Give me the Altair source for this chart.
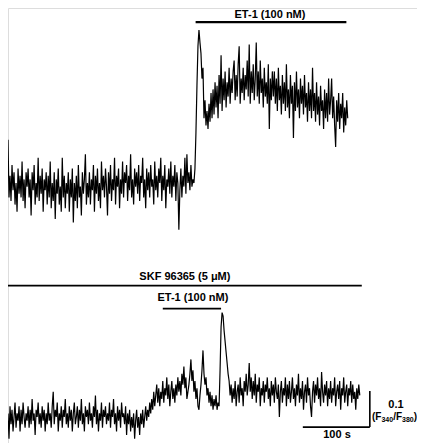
import altair as alt
import pandas as pd

# sampling interval of the traces (s)
dt = 1.5

# Top trace: F340/F380 ratio (ET-1 alone)
top_ratio = [
    0.82, 0.66, 0.72, 0.65, 0.75, 0.68, 0.73, 0.64, 0.70, 0.62, 0.74, 0.67, 0.72, 0.66, 0.76, 0.65, 0.71, 0.63, 0.73, 0.69,
    0.74, 0.66, 0.71, 0.61, 0.73, 0.68, 0.75, 0.64, 0.70, 0.66, 0.77, 0.65, 0.72, 0.67, 0.74, 0.62, 0.71, 0.68, 0.73, 0.64,
    0.72, 0.66, 0.76, 0.63, 0.70, 0.65, 0.73, 0.60, 0.71, 0.67, 0.74, 0.64, 0.69, 0.62, 0.77, 0.66, 0.72, 0.63, 0.70, 0.67,
    0.73, 0.62, 0.71, 0.66, 0.74, 0.59, 0.70, 0.65, 0.72, 0.63, 0.75, 0.66, 0.69, 0.61, 0.73, 0.67, 0.71, 0.78, 0.64, 0.70,
    0.66, 0.73, 0.64, 0.71, 0.68, 0.75, 0.62, 0.72, 0.67, 0.74, 0.65, 0.70, 0.63, 0.76, 0.68, 0.72, 0.66, 0.74, 0.69, 0.61,
    0.73, 0.67, 0.75, 0.65, 0.71, 0.68, 0.77, 0.64, 0.72, 0.69, 0.74, 0.63, 0.71, 0.67, 0.76, 0.66, 0.73, 0.70, 0.75, 0.65,
    0.72, 0.68, 0.78, 0.66, 0.71, 0.64, 0.74, 0.69, 0.73, 0.67, 0.75, 0.65, 0.72, 0.70, 0.77, 0.66, 0.71, 0.63, 0.74, 0.68,
    0.73, 0.66, 0.75, 0.69, 0.71, 0.64, 0.76, 0.68, 0.72, 0.66, 0.74, 0.70, 0.77, 0.65, 0.72, 0.68, 0.75, 0.63, 0.71, 0.69,
    0.74, 0.67, 0.76, 0.66, 0.72, 0.69, 0.75, 0.65, 0.73, 0.70, 0.57, 0.68, 0.74, 0.66, 0.72, 0.69, 0.77, 0.67, 0.78, 0.70,
    0.73, 0.68, 0.75, 0.69, 0.71,
    0.70, 0.74, 0.84, 0.97, 1.08, 1.125, 1.09, 1.06, 0.99, 1.02, 0.88, 0.93, 0.86, 0.90, 0.85, 0.92, 0.87, 0.95, 0.88,
    0.96, 0.89, 0.98, 0.91, 0.97, 0.88, 1.00, 0.92, 1.055, 0.90, 0.99, 0.93, 1.01, 0.91, 0.98, 0.94, 1.02, 0.92, 0.99, 0.95,
    1.01, 1.04, 0.93, 1.00, 0.94, 1.03, 1.08, 0.92, 0.99, 0.95, 1.02, 0.93, 1.00, 0.96, 1.04, 0.94, 1.085, 0.92, 1.01, 0.95,
    1.03, 0.93, 0.99, 1.09, 0.94, 1.01, 0.92, 1.04, 0.95, 0.99, 0.91, 1.02, 0.94, 0.98, 0.92, 1.03, 0.85, 0.99, 0.93, 1.01,
    0.94, 1.01, 0.92, 0.99, 0.90, 1.02, 0.93, 0.97, 0.89, 1.00, 0.92, 0.98, 0.90, 1.03, 0.91, 0.96, 0.88, 1.00, 0.92, 0.97,
    0.825, 0.98, 0.90, 1.01, 0.91, 0.96, 0.88, 0.99, 0.92, 0.97, 0.89, 1.00, 0.91, 0.95, 0.87, 0.98, 0.90, 0.96, 0.88, 1.02,
    0.90, 0.95, 0.87, 0.98, 0.89, 0.94, 0.86, 0.97, 0.90, 0.93, 0.85, 0.96, 0.88, 0.95, 0.87, 0.99, 0.89, 0.93, 0.99, 0.88,
    0.94, 0.86, 0.80, 0.93, 0.87, 0.95, 0.85, 0.92, 0.88, 0.95, 0.84, 0.91, 0.86, 0.93, 0.88,
]

# Bottom trace: F340/F380 ratio (ET-1 in presence of SKF 96365)
bottom_ratio = [
    0.06, -0.01, 0.08, 0.03, 0.07, 0.01, 0.05, 0.09, 0.02, 0.06, 0.04, 0.08, 0.01, 0.07, 0.03, 0.09, 0.05, 0.02, 0.06, 0.04,
    0.08, 0.02, 0.07, 0.03, 0.10, 0.04, 0.06, 0.00, 0.07, 0.05, 0.09, 0.03, 0.06, 0.02, 0.08, 0.04, 0.07, 0.01, 0.06, 0.03,
    0.09, 0.04, 0.06, 0.02, 0.08, 0.12, 0.03, 0.07, 0.05, 0.09, 0.01, 0.06, 0.04, 0.08, 0.02, 0.07, 0.05, 0.10, 0.03, 0.06,
    0.02, 0.08, 0.04, 0.07, 0.01, 0.06, 0.09, 0.03, 0.05, 0.08, 0.02, 0.07, 0.04, 0.10, 0.03, 0.06, 0.01, 0.08, 0.05, 0.07,
    0.03, 0.09, 0.04, 0.06, 0.02, 0.08, 0.05, 0.11, 0.03, 0.07, 0.01, 0.06, 0.04, 0.09, 0.02, 0.07, 0.05, 0.08, 0.03, 0.06,
    0.04, 0.09, 0.02, 0.07, 0.05, 0.10, 0.03, 0.06, 0.01, 0.08, 0.04, 0.07, 0.02, 0.09, 0.05, 0.06, 0.03, 0.08, 0.00, 0.06,
    0.03, 0.07, 0.01, 0.05, 0.02, 0.06, -0.01, 0.04, 0.07, 0.02, 0.05, 0.00, 0.06, 0.03, 0.07, 0.02, 0.05, 0.08, 0.04, 0.07,
    0.05, 0.09, 0.06, 0.10, 0.07, 0.12, 0.08, 0.11, 0.14, 0.09, 0.13, 0.08, 0.12, 0.10, 0.15, 0.09, 0.13, 0.11, 0.16, 0.10,
    0.14, 0.08, 0.12, 0.15, 0.10, 0.13, 0.09, 0.14, 0.11, 0.16, 0.12, 0.15, 0.11, 0.17, 0.14, 0.19, 0.13, 0.16, 0.10, 0.12,
    0.14, 0.17, 0.21, 0.15, 0.18, 0.12, 0.15, 0.10, 0.13, 0.08, 0.07, 0.11, 0.14, 0.18, 0.235, 0.17, 0.14, 0.16, 0.11, 0.13,
    0.09, 0.12, 0.08, 0.11, 0.07, 0.10, 0.08, 0.11, 0.07, 0.09, 0.08, 0.18, 0.30, 0.34, 0.33, 0.29, 0.26, 0.23, 0.20, 0.17,
    0.15, 0.11, 0.14, 0.09, 0.13, 0.10, 0.15, 0.08, 0.12, 0.14, 0.09, 0.16, 0.11, 0.13, 0.08, 0.15, 0.12, 0.17, 0.11, 0.14,
    0.20, 0.12, 0.16, 0.10, 0.15, 0.11, 0.17, 0.09, 0.14, 0.12, 0.16, 0.08, 0.13, 0.11, 0.15, 0.09, 0.14, 0.12, 0.16, 0.10,
    0.13, 0.08, 0.15, 0.11, 0.14, 0.09, 0.16, 0.12, 0.10, 0.14, 0.05, 0.12, 0.15, 0.09, 0.13, 0.11, 0.16, 0.08, 0.14, 0.10,
    0.15, 0.09, 0.12, 0.16, 0.10, 0.13, 0.08, 0.14, 0.11, 0.17, 0.09, 0.13, 0.10, 0.15, 0.07, 0.12, 0.14, 0.09, 0.16, 0.11,
    0.13, 0.08, 0.05, 0.12, 0.15, 0.09, 0.14, 0.11, 0.16, 0.10, 0.13, 0.08, 0.175, 0.12, 0.09, 0.14, 0.11, 0.15, 0.08, 0.13,
    0.10, 0.15, 0.09, 0.13, 0.11, 0.16, 0.08, 0.12, 0.14, 0.10, 0.15, 0.07, 0.13, 0.11, 0.16, 0.09, 0.12, 0.14, 0.08, 0.13,
    0.11, 0.15, 0.09, 0.14, 0.10, 0.12, 0.07, 0.13, 0.10, 0.14, 0.11,
]

# Drug application bars (time in s, level in ratio units)
bar_labels = ["ET-1 (100 nM)", "SKF 96365 (5 \u03bcM)", "ET-1 (100 nM)"]
bar_start = [280, 0, 231]
bar_end = [505, 528, 318]
bar_level = [1.147, 0.415, 0.351]
label_time = [391, 264, 276]
label_level = [1.167, 0.439, 0.381]
bar_width = [2.2, 1.6, 1.6]

# Scale bars: 100 s and 0.1 ratio units
scale_t = [440, 540]
scale_v = [0.022, 0.122]
scale_labels = ["100 s", "0.1"]
scale_label_t = [491, 579]
scale_label_v = [0.0, 0.083]

# Ratio unit label, written in pieces so the wavelengths sit as subscripts
unit_pieces = ["(F", "340", "/F", "380", ")"]
unit_piece_t = [543.3, 557.3, 574.8, 588.1, 605.5]
unit_piece_v = [0.050, 0.043, 0.050, 0.043, 0.050]
unit_piece_size = [10, 7, 10, 7, 10]

rows = []
for i, v in enumerate(top_ratio):
    rows.append({"trace": "top", "t": i * dt, "ratio": v})
for i, v in enumerate(bottom_ratio):
    rows.append({"trace": "bottom", "t": i * dt, "ratio": v})
traces = pd.DataFrame(rows)

bars = pd.DataFrame({
    "label": bar_labels, "start": bar_start, "end": bar_end,
    "level": bar_level, "lt": label_time, "lv": label_level, "w": bar_width,
})

xs = alt.Scale(domain=[0, 610.4], nice=False, zero=False)
ys = alt.Scale(domain=[-0.0222, 1.1861], nice=False, zero=False)
FONT = "Liberation Sans, Arial, sans-serif"

lines = alt.Chart(traces).mark_line(color="black", strokeWidth=1.2).encode(
    x=alt.X("t:Q", scale=xs, axis=None),
    y=alt.Y("ratio:Q", scale=ys, axis=None),
    detail="trace:N",
)

bar_rules = alt.Chart(bars).mark_rule(color="black").encode(
    x=alt.X("start:Q", scale=xs, axis=None),
    x2="end:Q",
    y=alt.Y("level:Q", scale=ys, axis=None),
    strokeWidth=alt.StrokeWidth("w:Q", scale=None),
)

bar_text = alt.Chart(bars).mark_text(
    font=FONT, fontWeight="bold", fontSize=11, baseline="middle", align="center"
).encode(
    x=alt.X("lt:Q", scale=xs, axis=None),
    y=alt.Y("lv:Q", scale=ys, axis=None),
    text="label:N",
)

sb = pd.DataFrame({"t0": [scale_t[0], scale_t[1]], "t1": [scale_t[1], scale_t[1]],
                   "v0": [scale_v[0], scale_v[0]], "v1": [scale_v[0], scale_v[1]]})
scale_rules = alt.Chart(sb).mark_rule(color="black", strokeWidth=1.6).encode(
    x=alt.X("t0:Q", scale=xs, axis=None),
    x2="t1:Q",
    y=alt.Y("v0:Q", scale=ys, axis=None),
    y2="v1:Q",
)

sl = pd.DataFrame({"text": scale_labels, "t": scale_label_t, "v": scale_label_v})
scale_text = alt.Chart(sl).mark_text(
    font=FONT, fontWeight="bold", fontSize=11, baseline="middle", align="center"
).encode(
    x=alt.X("t:Q", scale=xs, axis=None),
    y=alt.Y("v:Q", scale=ys, axis=None),
    text="text:N",
)

up = pd.DataFrame({"text": unit_pieces, "t": unit_piece_t, "v": unit_piece_v,
                   "size": unit_piece_size})
unit_text = alt.Chart(up).mark_text(
    font=FONT, fontWeight="bold", baseline="middle", align="left"
).encode(
    x=alt.X("t:Q", scale=xs, axis=None),
    y=alt.Y("v:Q", scale=ys, axis=None),
    text="text:N",
    size=alt.Size("size:Q", scale=None),
)

chart = alt.layer(lines, bar_rules, bar_text, scale_rules, scale_text, unit_text).properties(
    width=409, height=435,
    autosize=alt.AutoSizeParams(type="none"),
    padding=0,
).configure_view(stroke=None).configure(background="white")

chart.save("out.html", embed_options={"renderer": "svg", "actions": False})
